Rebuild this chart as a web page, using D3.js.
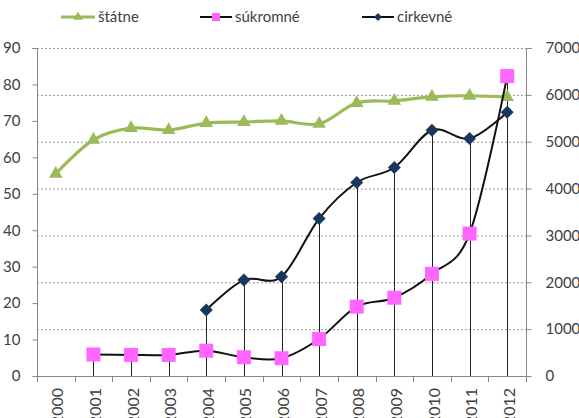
<!DOCTYPE html>
<html>
<head>
<meta charset="utf-8">
<script src="https://cdn.jsdelivr.net/npm/d3@7"></script>
<style>
html,body{margin:0;padding:0;background:#fff;overflow:hidden;}
svg{display:block;font-family:Lato,"Open Sans",sans-serif;}
</style>
</head>
<body>
<svg id="chart" width="579" height="418"></svg>
<script>
const years = ["2000","2001","2002","2003","2004","2005","2006","2007","2008","2009","2010","2011","2012"];
const statne = [55.5,64.8,68.0,67.5,69.4,69.7,70.0,69.2,74.9,75.5,76.6,76.9,76.5];
const sukromne = [null,460,450,450,540,400,380,790,1480,1670,2180,3040,6400];
const cirkevne = [null,null,null,null,1410,2050,2120,3360,4130,4450,5245,5070,5630];
const leftTicks = [0,10,20,30,40,50,60,70,80,90];
const rightTicks = [0,1000,2000,3000,4000,5000,6000,7000];
const seriesNames = ["štátne","súkromné","cirkevné"];

const svg = d3.select("#chart");
const L = 37, R = 526, T = 48, B = 376;
const textColor = "#404040", axisColor = "#868686";
const green = "#9BBB59", pink = "#FF66FF", navy = "#17375E";

const x = d3.scaleBand().domain(years).range([L, R]).padding(0);
const yL = d3.scaleLinear().domain([0, 90]).range([B, T]);
const yR = d3.scaleLinear().domain([0, 7000]).range([B, T]);
const cx = d => x(d) + x.bandwidth() / 2;

// gridlines (secondary axis)
svg.append("g").selectAll("line").data(rightTicks.filter(d => d > 0)).join("line")
  .attr("x1", L).attr("x2", R).attr("y1", d => yR(d) + 0.5).attr("y2", d => yR(d) + 0.5)
  .attr("stroke", "#9a9a9a").attr("stroke-width", 1).attr("stroke-dasharray", "2,2");

// left axis
const gl = svg.append("g").attr("transform", `translate(${L + 0.5},0)`)
  .call(d3.axisLeft(yL).tickValues(leftTicks).tickSize(5).tickPadding(12));
gl.select(".domain").attr("stroke", axisColor).attr("d", `M-5,${T + 0.5}H0V${B + 0.5}`);
gl.selectAll(".tick line").attr("stroke", axisColor);
gl.selectAll(".tick text").attr("fill", textColor).style("font-size", "15px").style("font-family", "Lato,sans-serif");

// right axis
const gr = svg.append("g").attr("transform", `translate(${R + 0.5},0)`)
  .call(d3.axisRight(yR).tickValues(rightTicks).tickSize(5).tickPadding(14).tickFormat(d3.format("d")));
gr.select(".domain").attr("stroke", axisColor).attr("d", `M5,${T + 0.5}H0V${B + 0.5}`);
gr.selectAll(".tick line").attr("stroke", axisColor);
gr.selectAll(".tick text").attr("fill", textColor).style("font-size", "15px").style("font-family", "Lato,sans-serif");

// bottom axis
const gb = svg.append("g");
gb.append("line").attr("x1", L - 2).attr("x2", R + 1).attr("y1", B + 0.5).attr("y2", B + 0.5).attr("stroke", axisColor);
const bounds = years.map(d => x(d)).concat([R]);
gb.selectAll("line.tk").data(bounds).join("line").attr("class", "tk")
  .attr("x1", d => Math.round(d) + 0.5).attr("x2", d => Math.round(d) + 0.5)
  .attr("y1", B).attr("y2", B + 6).attr("stroke", axisColor);
gb.selectAll("text").data(years).join("text")
  .attr("transform", d => `translate(${cx(d) + 2},${B + 12}) rotate(-90)`)
  .attr("text-anchor", "end").attr("dy", "0.35em")
  .attr("fill", textColor).style("font-size", "16px").text(d => d);

// drop lines (secondary group)
const dropData = years.map((yr, i) => {
  const vals = [sukromne[i], cirkevne[i]].filter(v => v != null);
  return vals.length ? { yr, v: Math.max(...vals) } : null;
}).filter(Boolean);
svg.append("g").selectAll("line").data(dropData).join("line")
  .attr("x1", d => Math.round(cx(d.yr)) + 0.5).attr("x2", d => Math.round(cx(d.yr)) + 0.5)
  .attr("y1", d => yR(d.v)).attr("y2", B)
  .attr("stroke", "#222").attr("stroke-width", 1);

const curve = d3.curveCatmullRom.alpha(0);

// štátne
const lineG = d3.line().x((d, i) => cx(years[i])).y(d => yL(d)).curve(curve);
svg.append("path").datum(statne).attr("d", lineG)
  .attr("fill", "none").attr("stroke", green).attr("stroke-width", 3.2);
svg.append("g").selectAll("path").data(statne).join("path")
  .attr("d", d3.symbol(d3.symbolTriangle, 80)())
  .attr("transform", (d, i) => `translate(${cx(years[i])},${yL(d)})`)
  .attr("fill", green);

// secondary lines
function drawSeries(vals, color, size, rotate) {
  const pts = vals.map((v, i) => ({ yr: years[i], v })).filter(d => d.v != null);
  const ln = d3.line().x(d => cx(d.yr)).y(d => yR(d.v)).curve(curve);
  svg.append("path").datum(pts).attr("d", ln)
    .attr("fill", "none").attr("stroke", "#111").attr("stroke-width", 2);
  svg.append("g").selectAll("path").data(pts).join("path")
    .attr("d", d3.symbol(d3.symbolSquare, size)())
    .attr("transform", d => `translate(${cx(d.yr)},${yR(d.v)})${rotate ? " rotate(45)" : ""}`)
    .attr("fill", color);
}
drawSeries(sukromne, pink, 196, false);
drawSeries(cirkevne, navy, 84, true);

// legend
const lg = svg.append("g").style("font-size", "15px");
const items = [
  { name: seriesNames[0], x1: 61, x2: 95, stroke: green, sw: 3.2, fill: green, sym: "tri" },
  { name: seriesNames[1], x1: 200, x2: 232, stroke: "#111", sw: 2, fill: pink, sym: "sq" },
  { name: seriesNames[2], x1: 362, x2: 394, stroke: "#111", sw: 2, fill: navy, sym: "dia" }
];
const ly = 17;
items.forEach(it => {
  lg.append("line").attr("x1", it.x1).attr("x2", it.x2).attr("y1", ly).attr("y2", ly)
    .attr("stroke", it.stroke).attr("stroke-width", it.sw);
  const mx = (it.x1 + it.x2) / 2;
  let p;
  if (it.sym === "tri") p = lg.append("path").attr("d", d3.symbol(d3.symbolTriangle, 40)()).attr("transform", `translate(${mx},${ly})`);
  else if (it.sym === "sq") p = lg.append("path").attr("d", d3.symbol(d3.symbolSquare, 64)()).attr("transform", `translate(${mx},${ly})`);
  else p = lg.append("path").attr("d", d3.symbol(d3.symbolSquare, 32)()).attr("transform", `translate(${mx},${ly}) rotate(45)`);
  p.attr("fill", it.fill);
  lg.append("text").attr("x", it.x2 + 3).attr("y", ly).attr("dy", "0.35em")
    .attr("fill", textColor).text(it.name);
});
</script>
</body>
</html>
